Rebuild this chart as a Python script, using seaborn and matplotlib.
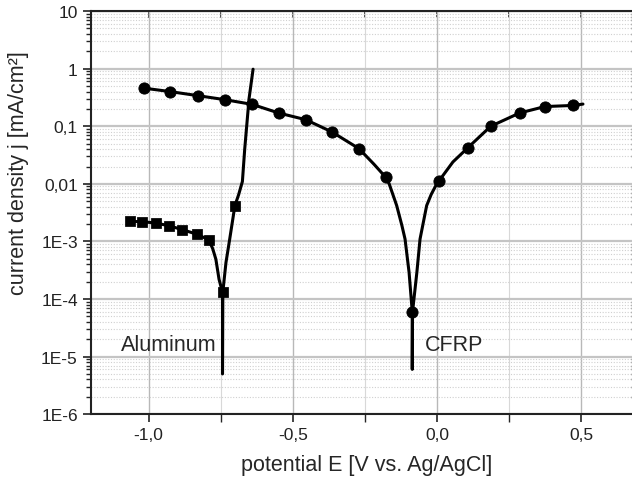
import numpy as np
import pandas as pd
import matplotlib
matplotlib.use("Agg")
import matplotlib.pyplot as plt
import seaborn as sns
from matplotlib.ticker import FixedLocator, LogLocator, NullFormatter

# ================================
# data
# ================================

# CFRP curve (potential V, current density mA/cm2)
cfrp_E = [-1.017, -0.925, -0.829, -0.736, -0.641, -0.549, -0.455, -0.365, -0.271,
          -0.219, -0.178, -0.166, -0.140, -0.122, -0.111, -0.097, -0.086, -0.086,
          -0.085, -0.070, -0.059, -0.036, -0.020, -0.001, 0.007, 0.055, 0.106,
          0.186, 0.286, 0.374, 0.471, 0.506]
cfrp_j = [0.46, 0.40, 0.34, 0.29, 0.24, 0.17, 0.13, 0.080, 0.041,
          0.022, 0.013, 0.010, 0.0042, 0.0019, 0.0011, 2.9e-4, 6e-5, 6e-6,
          6e-5, 2.9e-4, 1.1e-3, 0.0042, 0.0066, 0.0100, 0.0113, 0.024, 0.042,
          0.10, 0.17, 0.22, 0.23, 0.243]
# CFRP markers
cfrp_mE = [-1.017, -0.925, -0.829, -0.736, -0.641, -0.549, -0.455, -0.365, -0.271,
           -0.178, -0.086, 0.007, 0.106, 0.186, 0.286, 0.374, 0.471]
cfrp_mj = [0.46, 0.40, 0.34, 0.29, 0.24, 0.17, 0.13, 0.080, 0.041,
           0.013, 6e-5, 0.0113, 0.042, 0.10, 0.17, 0.22, 0.23]

# Aluminum curve
al_E = [-1.066, -1.022, -0.976, -0.929, -0.883, -0.834, -0.792, -0.778, -0.767,
        -0.756, -0.744, -0.744, -0.743, -0.732, -0.719, -0.701, -0.688, -0.675,
        -0.667, -0.652, -0.638]
al_j = [2.23e-3, 2.2e-3, 2.09e-3, 1.87e-3, 1.6e-3, 1.34e-3, 1.07e-3, 7.5e-4, 4.9e-4,
        2.2e-4, 1.3e-4, 5e-6, 1.3e-4, 4.3e-4, 1.1e-3, 4.2e-3, 6.5e-3, 0.011,
        0.040, 0.30, 0.98]
# Aluminum markers
al_mE = [-1.066, -1.022, -0.976, -0.929, -0.883, -0.834, -0.792, -0.744, -0.701]
al_mj = [2.23e-3, 2.2e-3, 2.09e-3, 1.87e-3, 1.6e-3, 1.34e-3, 1.07e-3, 1.3e-4, 4.2e-3]

x_ticks = [-1.0, -0.5, 0.0, 0.5]
x_minor = [-0.75, -0.25, 0.25]
x_labels = ["-1,0", "-0,5", "0,0", "0,5"]
y_ticks = [1e1, 1e0, 1e-1, 1e-2, 1e-3, 1e-4, 1e-5, 1e-6]
y_labels = ["10", "1", "0,1", "0,01", "1E-3", "1E-4", "1E-5", "1E-6"]

cfrp = pd.DataFrame({"E": cfrp_E, "j": cfrp_j})
al = pd.DataFrame({"E": al_E, "j": al_j})

# ================================
# plot
# ================================
sns.set_style("ticks")
plt.rcParams["font.family"] = ["Liberation Sans", "DejaVu Sans"]

fig = plt.figure(figsize=(6.32, 4.85), dpi=100)
ax = fig.add_axes([0.144, 0.144, 0.861, 0.831])
ax.set_yscale("log")

# grid
ax.set_axisbelow(True)
ax.grid(which="major", axis="y", color="#c4c4c4", lw=1.6)
ax.grid(which="major", axis="x", color="#b8b8b8", lw=1.0)
ax.grid(which="minor", axis="y", color="#d0d0d0", lw=0.8, ls=(0, (1, 1.5)))
ax.grid(which="minor", axis="x", color="#d8d8d8", lw=0.8)

# estimator=None so the vertical drop at Ecorr is kept
sns.lineplot(data=cfrp, x="E", y="j", sort=False, estimator=None, color="black",
             lw=2.2, ax=ax)
sns.lineplot(data=al, x="E", y="j", sort=False, estimator=None, color="black",
             lw=2.2, ax=ax)
sns.scatterplot(x=cfrp_mE, y=cfrp_mj, marker="o", s=65, color="black",
                edgecolor="black", zorder=5, ax=ax)
sns.scatterplot(x=al_mE, y=al_mj, marker="s", s=45, color="black",
                edgecolor="black", zorder=5, ax=ax)

ax.set_xlim(-1.2, 0.687)
ax.set_ylim(1e-6, 10)

ax.set_xticks(x_ticks)
ax.set_xticklabels(x_labels)
ax.xaxis.set_minor_locator(FixedLocator(x_minor))
ax.set_yticks(y_ticks)
ax.set_yticklabels(y_labels)
ax.yaxis.set_minor_locator(LogLocator(base=10, subs=np.arange(2, 10), numticks=20))
ax.yaxis.set_minor_formatter(NullFormatter())

ax.tick_params(axis="both", which="major", labelsize=12.5, length=6, width=1.2,
               direction="out", colors="#222222")
ax.tick_params(axis="both", which="minor", length=3.5, width=1.0, direction="out")
ax.tick_params(axis="x", which="minor", length=6)

# mirrored inward ticks on top and right
top = ax.secondary_xaxis("top")
top.set_xticks(x_ticks)
top.set_xticklabels([])
top.xaxis.set_minor_locator(FixedLocator(x_minor))
top.tick_params(which="both", direction="in", length=5, width=1.2)

right = ax.secondary_yaxis("right")
right.set_yticks(y_ticks)
right.set_yticklabels([])
right.yaxis.set_minor_locator(LogLocator(base=10, subs=np.arange(2, 10), numticks=20))
right.yaxis.set_minor_formatter(NullFormatter())
right.tick_params(which="major", direction="in", length=6, width=1.2)
right.tick_params(which="minor", direction="in", length=3, width=1.0)

for s in ax.spines.values():
    s.set_linewidth(1.5)
    s.set_color("#222222")

ax.set_xlabel("potential E [V vs. Ag/AgCl]", fontsize=15.5, labelpad=9)
ax.set_ylabel("current density j [mA/cm²]", fontsize=15.5, labelpad=9)
ax.xaxis.set_label_coords(0.507, -0.1)
ax.yaxis.label.set_y(0.6)

ax.text(-0.764, 1.6e-5, "Aluminum", fontsize=15.5, ha="right", va="center")
ax.text(-0.042, 1.6e-5, "CFRP", fontsize=15.5, ha="left", va="center")

fig.savefig("out.png", dpi=100)
